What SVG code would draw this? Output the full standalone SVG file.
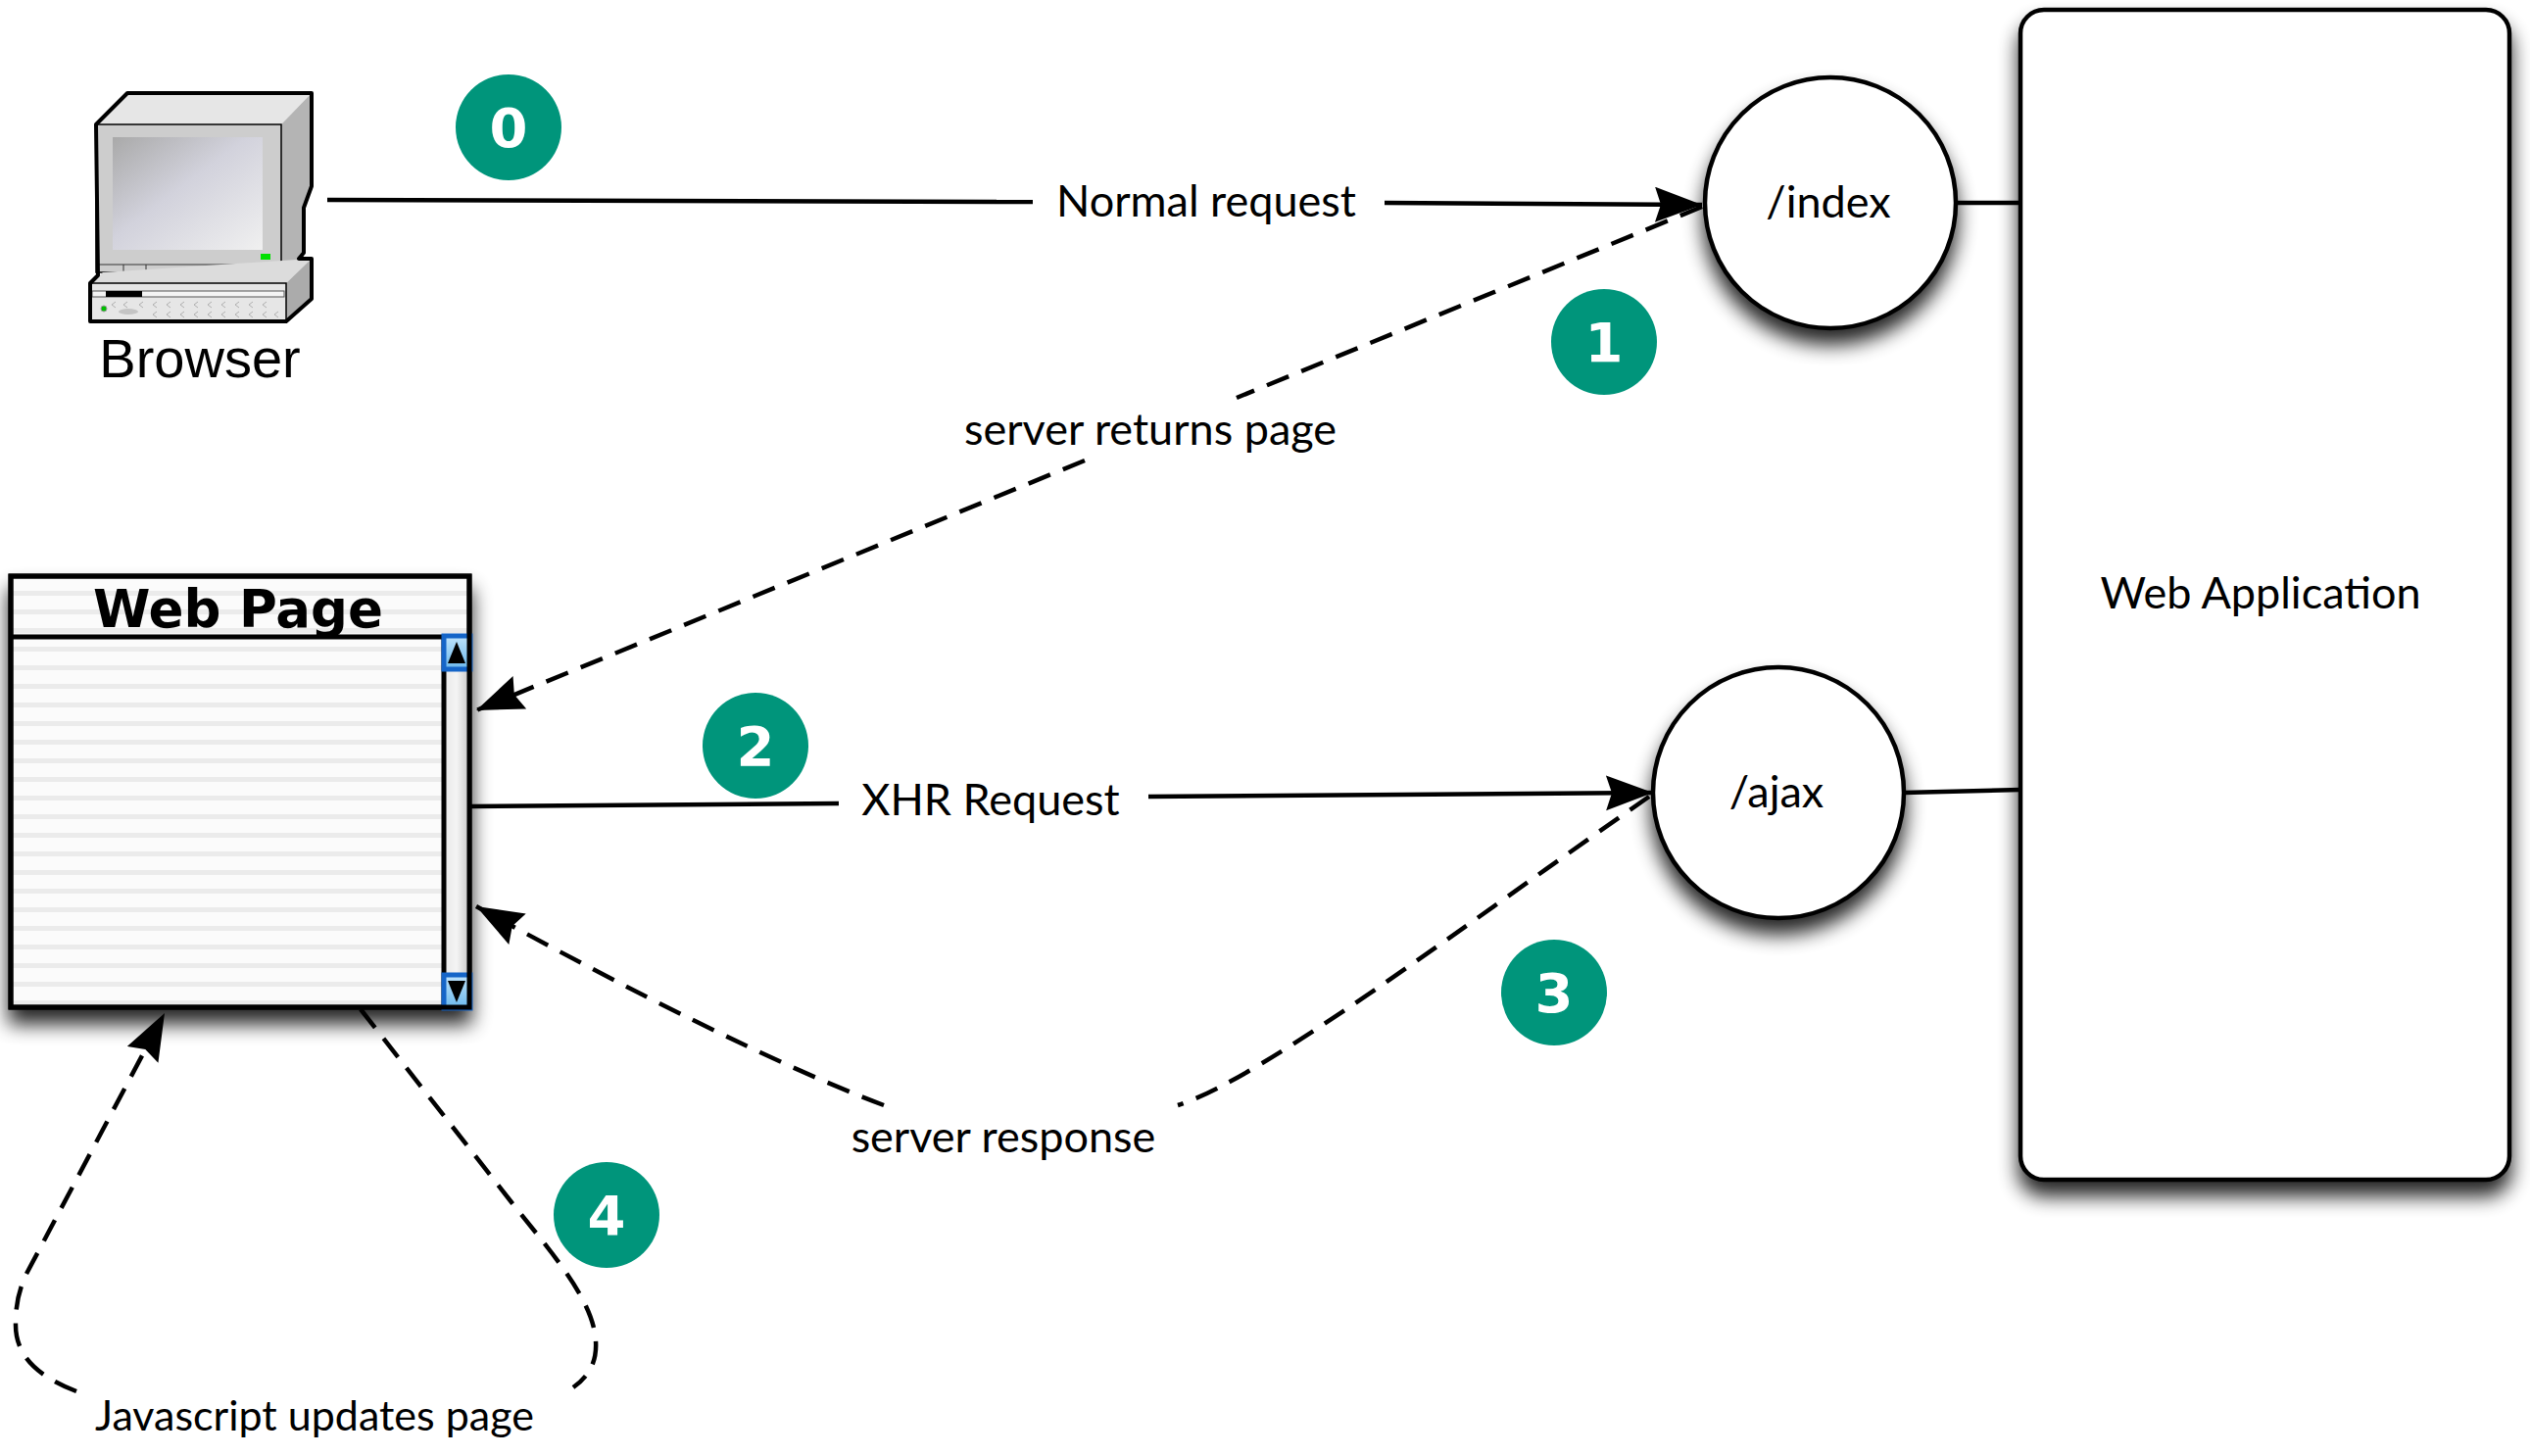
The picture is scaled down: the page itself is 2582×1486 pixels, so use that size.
<svg xmlns="http://www.w3.org/2000/svg" width="2582" height="1486" viewBox="0 0 2582 1486">
<style>
.lbl{font-family:Lato,"Open Sans","Liberation Sans",sans-serif;font-size:45px;fill:#000;text-anchor:middle}
.ln{fill:none;stroke:#000;stroke-width:4.5;stroke-linecap:butt}
.dash{fill:none;stroke:#000;stroke-width:4.5;stroke-dasharray:24 14}
.node{fill:#fff;stroke:#000;stroke-width:4.5}
.badge circle{fill:#00957b}
.badge text{font-family:"DejaVu Sans","Liberation Sans",sans-serif;font-weight:bold;font-size:56px;fill:#fff;text-anchor:middle}
</style>
<defs>
<marker id="arr" markerUnits="userSpaceOnUse" markerWidth="52" markerHeight="40" refX="48" refY="18" orient="auto">
<path d="M0,0 L48,18 L0,36 L6,18 Z" fill="#000"/>
</marker>
<filter id="shadow" x="-30%" y="-30%" width="160%" height="170%">
<feGaussianBlur in="SourceAlpha" stdDeviation="10"/>
<feOffset dy="15" result="b"/>
<feComponentTransfer><feFuncA type="linear" slope="0.85"/></feComponentTransfer>
<feMerge><feMergeNode/><feMergeNode in="SourceGraphic"/></feMerge>
</filter>
<pattern id="stripes" width="40" height="19" patternUnits="userSpaceOnUse" y="2">
<rect width="40" height="19" fill="#fbfbfb"/>
<rect y="12" width="40" height="5" fill="#ebebeb"/>
</pattern>
<linearGradient id="screen" x1="0" y1="0" x2="1" y2="1">
<stop offset="0" stop-color="#a9a9a9"/>
<stop offset="0.45" stop-color="#d2d2dc"/>
<stop offset="1" stop-color="#f0f0f0"/>
</linearGradient>
<linearGradient id="track" x1="0" y1="0" x2="1" y2="0">
<stop offset="0" stop-color="#e8e8e8"/>
<stop offset="0.5" stop-color="#f4f4f4"/>
<stop offset="1" stop-color="#c8c8c8"/>
</linearGradient>
<linearGradient id="btn" x1="0" y1="0" x2="0" y2="1">
<stop offset="0" stop-color="#bfe3fb"/>
<stop offset="1" stop-color="#6bb8ec"/>
</linearGradient>
</defs>

<rect width="2582" height="1486" fill="#fff"/>

<!-- Browser -->
<g id="browser">
<polygon points="98,127 130,95 318,95 287,127" fill="#e6e6e6"/>
<polygon points="287,127 318,95 318,190 310,212 310,262 287,278" fill="#b4b4b4"/>
<rect x="98" y="127" width="189" height="151" fill="#cdcdcd" stroke="#000" stroke-width="1.5"/>
<rect x="115" y="140" width="153" height="115" fill="url(#screen)"/>
<rect x="266" y="259" width="10" height="6" fill="#00e000"/>
<line x1="98" y1="270" x2="287" y2="270" stroke="#333" stroke-width="1"/>
<line x1="126" y1="270" x2="126" y2="278" stroke="#333" stroke-width="1"/>
<line x1="149" y1="270" x2="149" y2="278" stroke="#333" stroke-width="1"/>
<polygon points="92,289 105,278 318,264 292,289" fill="#dcdcdc"/>
<polygon points="292,289 318,264 318,305 292,328" fill="#ababab"/>
<rect x="92" y="289" width="200" height="39" fill="#e6e6e6" stroke="#000" stroke-width="1.5"/>
<rect x="94" y="297" width="196" height="6" fill="#f4f4f4" stroke="#555" stroke-width="1"/>
<rect x="108" y="297" width="37" height="6" fill="#000"/>
<circle cx="106" cy="315" r="3" fill="#00c000" stroke="#999" stroke-width="1"/>
<ellipse cx="131" cy="318" rx="10" ry="3" fill="#c4c4c4"/>
<path d="M118,308 l-4,3 l4,3 M130,308 l-4,3 l4,3 M146,308 l-4,3 l4,3 M160,308 l-4,3 l4,3 M174,308 l-4,3 l4,3 M188,308 l-4,3 l4,3 M202,308 l-4,3 l4,3 M216,308 l-4,3 l4,3 M230,308 l-4,3 l4,3 M244,308 l-4,3 l4,3 M258,308 l-4,3 l4,3 M272,308 l-4,3 l4,3 M160,318 l-4,3 l4,3 M174,318 l-4,3 l4,3 M188,318 l-4,3 l4,3 M202,318 l-4,3 l4,3 M216,318 l-4,3 l4,3 M230,318 l-4,3 l4,3 M244,318 l-4,3 l4,3 M258,318 l-4,3 l4,3 M272,318 l-4,3 l4,3 M284,318 l-4,3 l4,3" stroke="#b0b0b0" stroke-width="1" fill="none"/>
<path d="M92,328 L92,289 L100,281 L98,127 L130,95 L318,95 L318,190 L310,212 L310,258 L305,264 L318,264 L318,305 L292,328 Z" fill="none" stroke="#000" stroke-width="4" stroke-linejoin="round"/>
<text x="204" y="385" font-family="'Liberation Sans',Arial,sans-serif" font-size="56" text-anchor="middle">Browser</text>
</g>

<!-- Web Page -->
<g id="webpage">
<rect x="11" y="588" width="468" height="440" fill="url(#stripes)" stroke="#000" stroke-width="5" filter="url(#shadow)"/>
<rect x="453" y="650" width="26" height="378" fill="url(#track)"/>
<line x1="11" y1="650" x2="479" y2="650" stroke="#000" stroke-width="5"/>
<line x1="453" y1="650" x2="453" y2="1028" stroke="#000" stroke-width="5"/>
<rect x="453" y="649" width="27" height="34" fill="url(#btn)" stroke="#1565c8" stroke-width="5"/>
<polygon points="466,655 475,677 457,677" fill="#000"/>
<rect x="453" y="995" width="27" height="34" fill="url(#btn)" stroke="#1565c8" stroke-width="5"/>
<polygon points="457,1001 475,1001 466,1023" fill="#000"/>
<rect x="11" y="588" width="468" height="440" fill="none" stroke="#000" stroke-width="5"/>
<text x="243" y="640" font-family="'DejaVu Sans',Verdana,sans-serif" font-weight="bold" font-size="53" text-anchor="middle">Web Page</text>
</g>

<!-- /index -->
<g id="index">
<circle cx="1868" cy="207" r="128" class="node" filter="url(#shadow)"/>
<text x="1866" y="222" class="lbl">/index</text>
</g>

<!-- /ajax -->
<g id="ajax">
<circle cx="1815" cy="809" r="128" class="node" filter="url(#shadow)"/>
<text x="1813" y="824" class="lbl">/ajax</text>
</g>

<!-- Web Application -->
<g id="webapp">
<rect x="2062" y="10" width="499" height="1194" rx="24" class="node" filter="url(#shadow)"/>
<text x="2307" y="621" class="lbl">Web Application</text>
</g>

<!-- connectors -->
<g id="connectors">
<path class="ln" d="M334,204 L1054,206"/>
<path class="ln" d="M1413,207 L1737,209" marker-end="url(#arr)"/>
<path class="ln" d="M1996,207 L2062,207"/>
<path class="ln" d="M479,823 L856,820"/>
<path class="ln" d="M1172,813 L1687,809" marker-end="url(#arr)"/>
<path class="ln" d="M1943,809 L2062,806"/>
<path class="dash" d="M1737,211 L1262,406"/>
<path class="dash" d="M1107,470 L486,725" marker-end="url(#arr)"/>
<path class="dash" d="M1683,813 C1500,940 1290,1100 1202,1128"/>
<path class="dash" d="M902,1128 C800,1090 640,1010 486,925" marker-end="url(#arr)"/>
<path class="dash" d="M368,1030 L522,1227 C560,1275 600,1320 607,1360 C612,1390 600,1405 585,1416"/>
<path class="dash" d="M78,1420 C40,1405 15,1385 16,1350 C16,1330 20,1315 27,1300 L168,1034" marker-end="url(#arr)"/>
</g>

<!-- connector labels -->
<g id="labels">
<text x="1231" y="221" class="lbl">Normal request</text>
<text x="1174" y="454" class="lbl">server returns page</text>
<text x="1011" y="832" class="lbl">XHR Request</text>
<text x="1024" y="1176" class="lbl">server response</text>
<text x="321" y="1460" class="lbl" style="font-size:43px">Javascript updates page</text>
</g>

<!-- badges -->
<g id="badge0" class="badge"><circle cx="519" cy="130" r="54"/><text x="519" y="150">0</text></g>
<g id="badge1" class="badge"><circle cx="1637" cy="349" r="54"/><text x="1637" y="369">1</text></g>
<g id="badge2" class="badge"><circle cx="771" cy="761" r="54"/><text x="771" y="781">2</text></g>
<g id="badge3" class="badge"><circle cx="1586" cy="1013" r="54"/><text x="1586" y="1033">3</text></g>
<g id="badge4" class="badge"><circle cx="619" cy="1240" r="54"/><text x="619" y="1260">4</text></g>
</svg>
